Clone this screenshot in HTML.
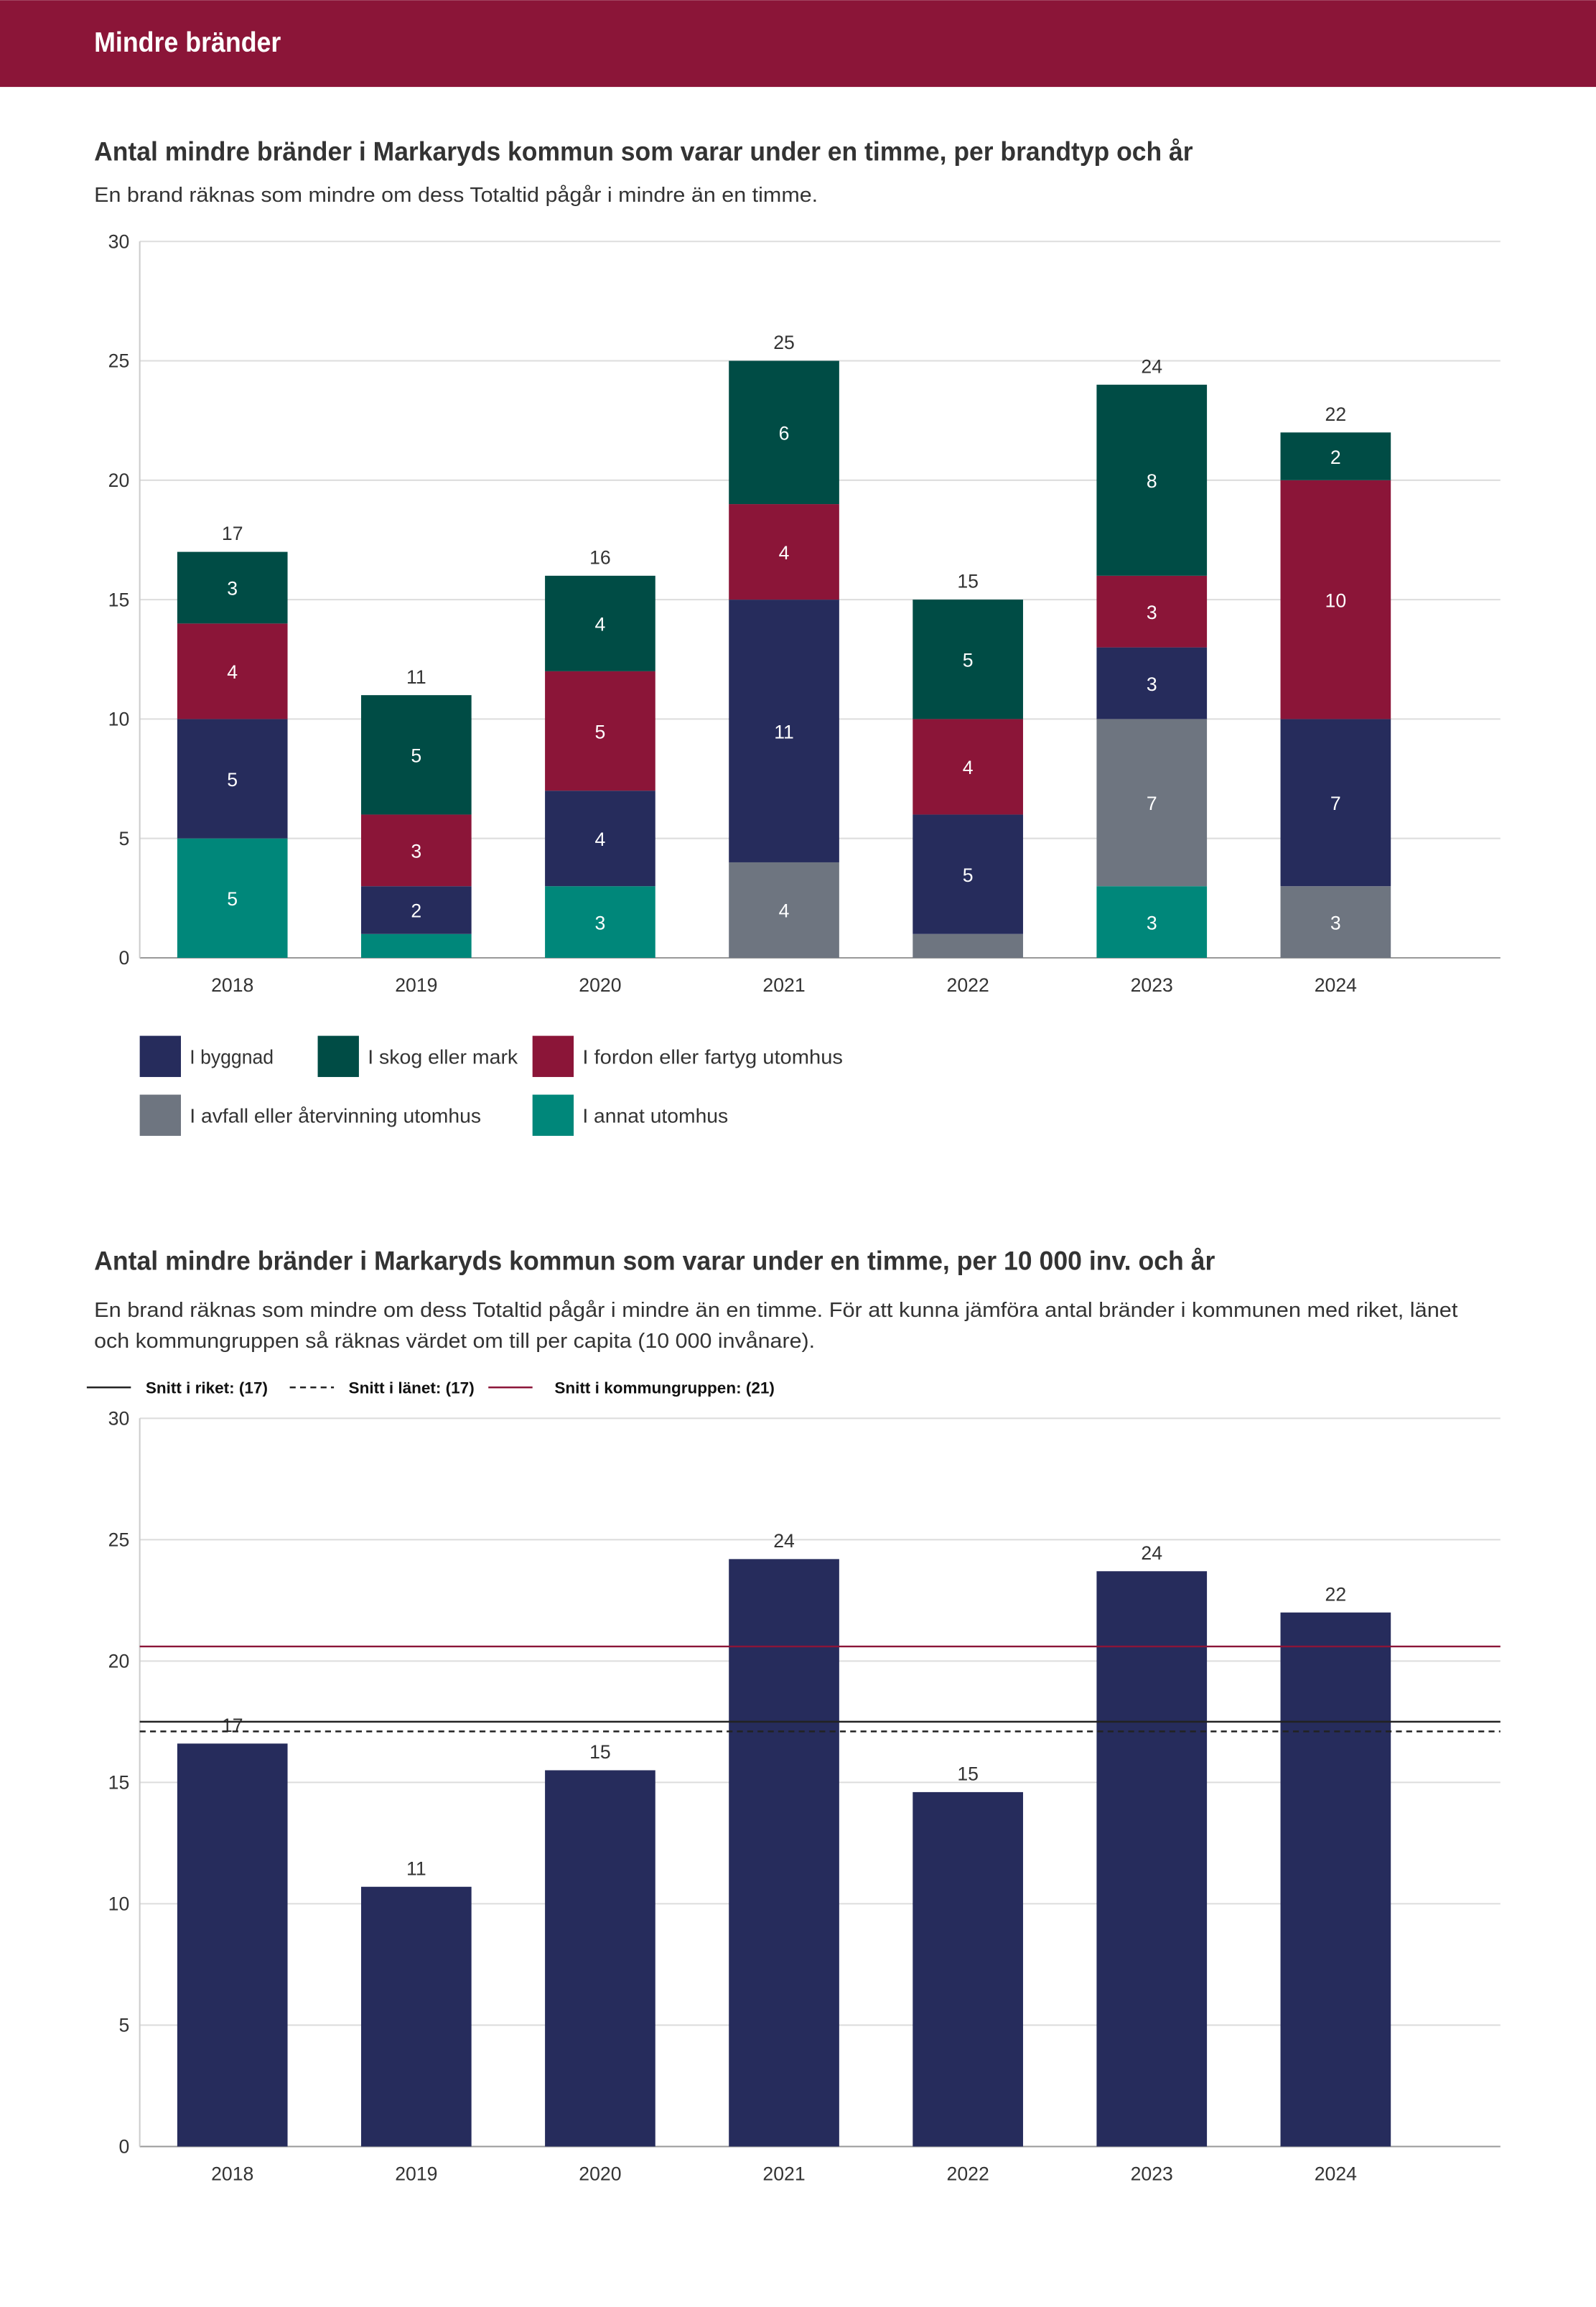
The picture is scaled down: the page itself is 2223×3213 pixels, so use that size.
<!DOCTYPE html>
<html><head><meta charset="utf-8"><style>
html,body{margin:0;padding:0;background:#fff}
svg{display:block;font-family:"Liberation Sans",sans-serif}
</style></head><body>
<svg id="s" width="2223" height="3213" viewBox="0 0 1085 1568" xmlns="http://www.w3.org/2000/svg">
<rect x="0" y="0" width="1085" height="59" fill="#8b1538"/>
<text x="64" y="35" fill="#fff" font-size="19" font-weight="bold" textLength="127" lengthAdjust="spacingAndGlyphs">Mindre bränder</text>
<text x="64" y="109" fill="#333" font-size="18" font-weight="bold" textLength="747" lengthAdjust="spacingAndGlyphs">Antal mindre bränder i Markaryds kommun som varar under en timme, per brandtyp och år</text>
<text x="64" y="137" fill="#333" font-size="14" textLength="492" lengthAdjust="spacingAndGlyphs">En brand räknas som mindre om dess Totaltid pågår i mindre än en timme.</text>
<g id="c1"></g>
<g font-size="13.5" fill="#333">
<rect x="95" y="704" width="28" height="28" fill="#262c5c"/><text x="129" y="723" textLength="57" lengthAdjust="spacingAndGlyphs">I byggnad</text>
<rect x="216" y="704" width="28" height="28" fill="#004c45"/><text x="250" y="723" textLength="102" lengthAdjust="spacingAndGlyphs">I skog eller mark</text>
<rect x="362" y="704" width="28" height="28" fill="#8b1538"/><text x="396" y="723" textLength="177" lengthAdjust="spacingAndGlyphs">I fordon eller fartyg utomhus</text>
<rect x="95" y="744" width="28" height="28" fill="#6e7580"/><text x="129" y="763" textLength="198" lengthAdjust="spacingAndGlyphs">I avfall eller återvinning utomhus</text>
<rect x="362" y="744" width="28" height="28" fill="#00877a"/><text x="396" y="763" textLength="99" lengthAdjust="spacingAndGlyphs">I annat utomhus</text>
</g>
<text x="64" y="863" fill="#333" font-size="18" font-weight="bold" textLength="762" lengthAdjust="spacingAndGlyphs">Antal mindre bränder i Markaryds kommun som varar under en timme, per 10 000 inv. och år</text>
<text x="64" y="895" fill="#333" font-size="14" textLength="927" lengthAdjust="spacingAndGlyphs">En brand räknas som mindre om dess Totaltid pågår i mindre än en timme. För att kunna jämföra antal bränder i kommunen med riket, länet</text>
<text x="64" y="916" fill="#333" font-size="14" textLength="490" lengthAdjust="spacingAndGlyphs">och kommungruppen så räknas värdet om till per capita (10 000 invånare).</text>
<g font-size="11" font-weight="bold" fill="#111">
<line x1="59" y1="943" x2="89" y2="943" stroke="#222" stroke-width="1.2"/><text x="99" y="947">Snitt i riket: (17)</text>
<line x1="197" y1="943" x2="227" y2="943" stroke="#222" stroke-width="1.2" stroke-dasharray="4,3"/><text x="237" y="947">Snitt i länet: (17)</text>
<line x1="332" y1="943" x2="362" y2="943" stroke="#8b1538" stroke-width="1.2"/><text x="377" y="947">Snitt i kommungruppen: (21)</text>
</g>
<g id="c2"></g>
</svg>
<script>
const years=["2018","2019","2020","2021","2022","2023","2024"];
const annat=[5,1,3,0,0,3,0];
const avfall=[0,0,0,4,1,7,3];
const byggnad=[5,2,4,11,5,3,7];
const fordon=[4,3,5,4,4,3,10];
const skog=[3,5,4,6,5,8,2];
const perCapita=[16.6,10.7,15.5,24.2,14.6,23.7,22.0];
const perCapitaLabels=["17","11","15","24","15","24","22"];
const yTicks=[0,5,10,15,20,25,30];
const riket=17.5, lanet=17.1, kommungrupp=20.6;
const NS="http://www.w3.org/2000/svg";
function mk(p,t,a){const e=document.createElementNS(NS,t);for(const k in a)e.setAttribute(k,a[k]);p.appendChild(e);return e;}
function axes(g,top,bottom){
  const y=v=>bottom-(bottom-top)*v/30;
  yTicks.forEach(t=>{
    const l=mk(g,'line',{x1:95,x2:1020,y1:y(t),y2:y(t),stroke:t?'#ddd':'#999','stroke-width':1});
    
    
    const tx=mk(g,'text',{x:88,y:y(t)+4.5,'text-anchor':'end','font-size':13,fill:'#333'});
    tx.textContent=t;
    
    
  });
  const ax=mk(g,'line',{x1:95,x2:95,y1:top,y2:bottom,stroke:'#ccc'});
  
  
  years.forEach((yr,i)=>{
    const tx=mk(g,'text',{x:xc(i),y:bottom+23,'text-anchor':'middle','font-size':13,fill:'#333'});
    tx.textContent=yr;
    
    
  });
  return y;
}
const xc=i=>158+125*i, bw=75;
const g1=document.getElementById('c1');
const y1=axes(g1,164,651);
const series=[[annat,'#00877a','annat'],[avfall,'#6e7580','avfall'],[byggnad,'#262c5c','byggnad'],[fordon,'#8b1538','fordon'],[skog,'#004c45','skog']];
years.forEach((yr,i)=>{
  let base=0;
  series.forEach(([arr,c,n])=>{
    const v=arr[i]; if(!v) return;
    const r=mk(g1,'rect',{x:xc(i)-bw/2,y:y1(base+v),width:bw,height:y1(base)-y1(base+v),fill:c});
    
    
    if(v>1){
      const t=mk(g1,'text',{x:xc(i),y:(y1(base)+y1(base+v))/2+5,'text-anchor':'middle','font-size':13,fill:'#fff'});
      t.textContent=v;
      
      
    }
    base+=v;
  });
  const t=mk(g1,'text',{x:xc(i),y:y1(base)-8,'text-anchor':'middle','font-size':13,fill:'#333'});
  t.textContent=base;
  
  
});
const g2=document.getElementById('c2');
const y2=axes(g2,964,1459);
perCapita.forEach((v,i)=>{
  const r=mk(g2,'rect',{x:xc(i)-bw/2,y:y2(v),width:bw,height:y2(0)-y2(v),fill:'#262c5c'});
  
  
  const t=mk(g2,'text',{x:xc(i),y:y2(v)-8,'text-anchor':'middle','font-size':13,fill:'#333'});
  t.textContent=perCapitaLabels[i];
  
  
});
[[riket,'#222',''],[lanet,'#222','4,3'],[kommungrupp,'#8b1538','']].forEach(([v,c,d],k)=>{
  const l=mk(g2,'line',{x1:95,x2:1020,y1:y2(v),y2:y2(v),stroke:c,'stroke-width':1.2});
  if(d) l.setAttribute('stroke-dasharray',d);
  
  
});
</script>
</body></html>
